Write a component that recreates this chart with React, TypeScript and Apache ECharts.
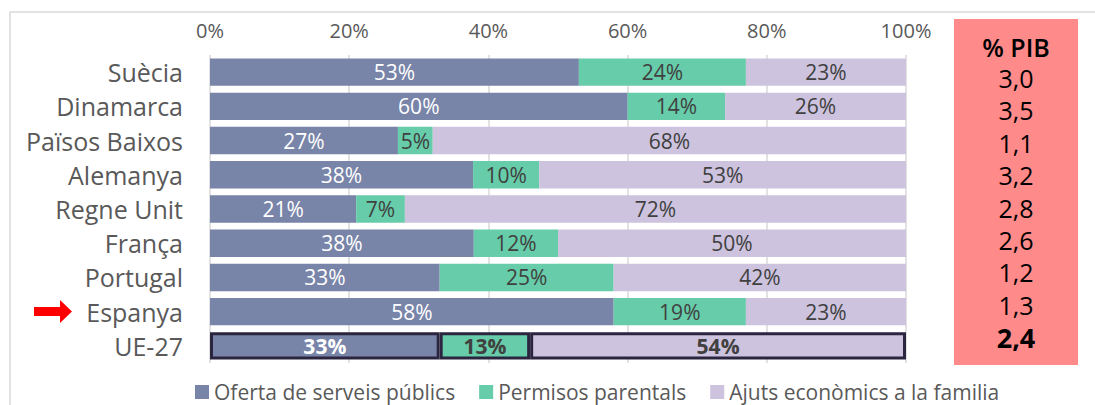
import React, { useEffect, useRef } from 'react';
import * as echarts from 'echarts';

const categories = ['Suècia', 'Dinamarca', 'Països Baixos', 'Alemanya', 'Regne Unit', 'França', 'Portugal', 'Espanya', 'UE-27'];
const oferta = [53, 60, 27, 37.8, 21, 37.9, 33, 58, 33];
const permisos = [24, 14, 5, 9.5, 7, 12.1, 25, 19, 13];
const ajuts = [23, 26, 68, 52.7, 72, 50, 42, 23, 54];
const pib = ['3,0', '3,5', '1,1', '3,2', '2,8', '2,6', '1,2', '1,3', '2,4'];
const seriesNames = ['Oferta de serveis públics', 'Permisos parentals', 'Ajuts econòmics a la familia'];
const pibTitle = '% PIB';

const FONT = '"Open Sans", "DejaVu Sans", sans-serif';
const COLORS = ['#7884a8', '#66cca9', '#cdc3de'];

export default function App() {
  const ref = useRef<HTMLDivElement>(null);
  useEffect(() => {
    if (!ref.current) return;
    const chart = echarts.init(ref.current, null, { renderer: 'svg' });
    const last = categories.length - 1;
    const mk = (arr: number[], idx: number) => ({
      name: seriesNames[idx],
      type: 'bar',
      stack: 'total',
      barWidth: '80%',
      itemStyle: { color: COLORS[idx] },
      label: {
        show: true,
        position: 'inside',
        formatter: (p: any) => Math.round(p.value) + '%',
        fontFamily: FONT,
        fontSize: 21,
        color: idx === 0 ? '#ffffff' : '#404040',
      },
      data: arr.map((v, i) =>
        i === last
          ? { value: v, itemStyle: { borderColor: '#2b2540', borderWidth: 3 }, label: { fontWeight: 'bold' } }
          : v
      ),
    });
    const pibTexts = pib.map((t, i) => ({
      type: 'text',
      style: {
        text: t,
        x: 1016,
        y: 78 + i * 32.4,
        align: 'center',
        verticalAlign: 'middle',
        fontFamily: FONT,
        fontSize: i === last ? 27 : 25,
        fontWeight: i === last ? 'bold' : 'normal',
        fill: '#000000',
      },
    }));
    chart.setOption({
      animation: false,
      backgroundColor: '#ffffff',
      grid: { left: 210, right: 189, top: 55, bottom: 42 },
      legend: {
        data: seriesNames,
        left: 195,
        top: 381,
        padding: 0,
        icon: 'rect',
        itemWidth: 14,
        itemHeight: 14,
        itemGap: 24,
        textStyle: { fontFamily: FONT, fontSize: 21, lineHeight: 22, color: '#595959' },
      },
      xAxis: {
        type: 'value',
        position: 'top',
        min: 0,
        max: 100,
        interval: 20,
        axisLabel: { formatter: '{value}%', fontFamily: FONT, fontSize: 20, color: '#595959', margin: 15 },
        axisLine: { show: false },
        axisTick: { show: false },
        splitLine: { show: true, lineStyle: { color: '#d9d9d9', width: 1.5 } },
      },
      yAxis: {
        type: 'category',
        inverse: true,
        data: categories,
        axisLine: { show: false },
        axisTick: { show: false },
        axisLabel: { fontFamily: FONT, fontSize: 25, color: '#595959', margin: 27 },
      },
      series: [mk(oferta, 0), mk(permisos, 1), mk(ajuts, 2)],
      graphic: [
        {
          type: 'rect',
          silent: true,
          shape: { x: 10, y: 12, width: 1100, height: 420 },
          style: { fill: 'none', stroke: '#d9d9d9', lineWidth: 1.5 },
        },
        {
          type: 'polygon',
          shape: { points: [[34, 307], [60, 307], [60, 300], [72, 311.5], [60, 323], [60, 316], [34, 316]] },
          style: { fill: '#ff0000' },
        },
        {
          type: 'rect',
          shape: { x: 954, y: 19, width: 124, height: 346 },
          style: { fill: '#ff8a8a' },
        },
        {
          type: 'text',
          style: {
            text: pibTitle,
            x: 1016,
            y: 47,
            align: 'center',
            verticalAlign: 'middle',
            fontFamily: FONT,
            fontSize: 25,
            fontWeight: 600,
            fill: '#000000',
          },
        },
        ...pibTexts,
      ],
    });
    return () => chart.dispose();
  }, []);
  return (
    <div
      ref={ref}
      style={{ position: 'absolute', left: 0, top: 0, width: 1095, height: 405, background: '#fff' }}
    />
  );
}
